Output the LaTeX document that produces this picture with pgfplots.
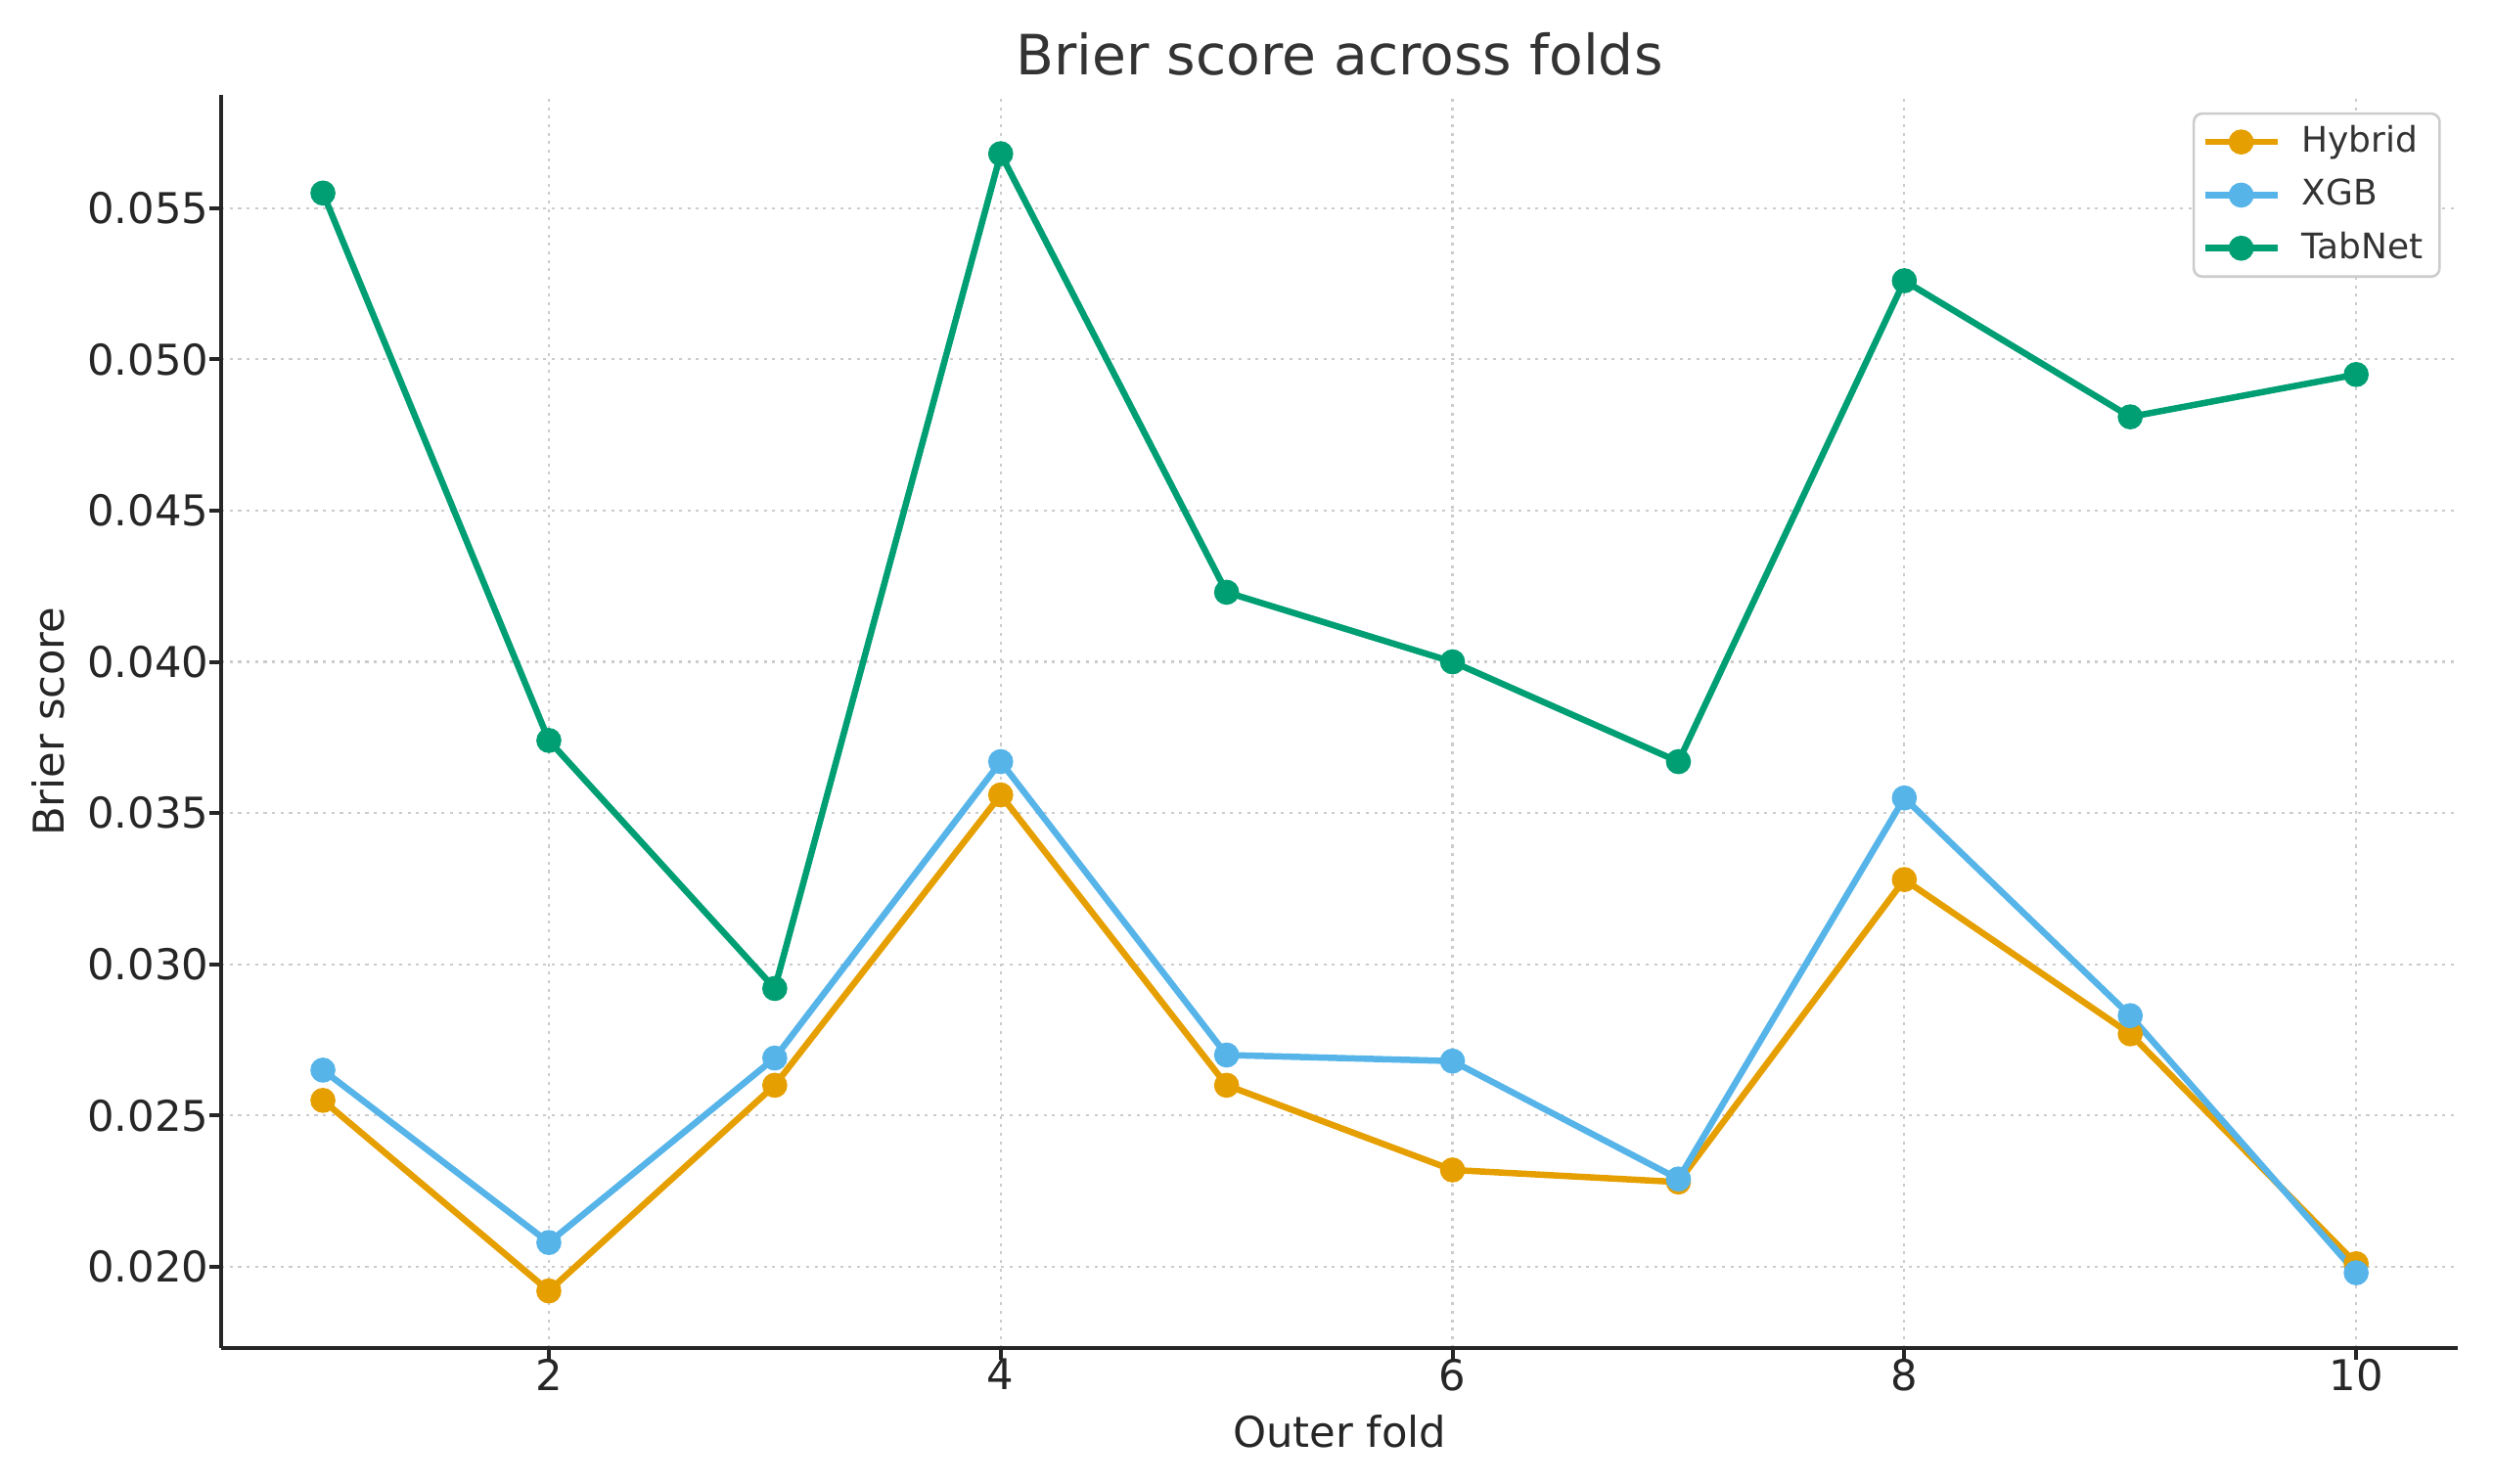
\documentclass[border=0pt]{standalone}
\usepackage{pgfplots}
\pgfplotsset{compat=1.18}
\usepackage{fontspec}
\setmainfont{DejaVu Sans}
\definecolor{cHyb}{HTML}{E69F00}
\definecolor{cXGB}{HTML}{56B4E9}
\definecolor{cTab}{HTML}{009E73}
\definecolor{txt}{HTML}{262626}
\definecolor{ttl}{HTML}{333333}
\definecolor{gridc}{HTML}{CCCCCC}
\begin{document}
\begin{tikzpicture}
\path[use as bounding box] (-52.2pt,-32.1pt) rectangle (535.9pt,318.0pt);
\begin{axis}[
  at={(0,0)}, anchor=south west,
  scale only axis,
  width=527.6pt, height=295.5pt,
  xmin=0.55, xmax=10.45,
  ymin=0.01732, ymax=0.05873,
  axis lines*=left,
  axis line style={txt, line width=0.9pt},
  xtick={2,4,6,8,10},
  ytick={0.020,0.025,0.030,0.035,0.040,0.045,0.050,0.055},
  scaled y ticks=false,
  tick align=outside,
  major tick length=2.8pt,
  tick style={txt, line width=0.9pt},
  /pgf/number format/assume math mode=true,
  yticklabel style={/pgf/number format/fixed, /pgf/number format/fixed zerofill, /pgf/number format/precision=3, font=\fontsize{10}{12}\selectfont, text=txt, xshift=3.4pt},
  xticklabel style={font=\fontsize{10}{12}\selectfont, text=txt, yshift=3.7pt},
  grid=major,
  major grid style={gridc, line width=0.5pt, dash pattern=on 0.7pt off 1.3pt},
  every axis title shift=0pt,
  title={Brier score across folds},
  title style={at={(axis description cs:0.5,1.016)}, anchor=base, font=\fontsize{13.1}{15}\selectfont, text=ttl},
  xlabel={Outer fold},
  xlabel style={at={(axis description cs:0.5,-0.0796)}, anchor=base, font=\fontsize{10}{12}\selectfont, text=txt},
  ylabel={Brier score},
  ylabel style={at={(axis description cs:-0.0705,0.5)}, anchor=base, font=\fontsize{10}{12}\selectfont, text=txt},
  legend style={at={(axis description cs:1,1)}, anchor=north east, xshift=-4pt, yshift=-4pt,
    draw=gridc, line width=0.6pt, rounded corners=2pt, font=\fontsize{8.3}{10}\selectfont, text=ttl,
    row sep=0.8pt, inner xsep=1.9pt, inner ysep=0.8pt,
    /tikz/every odd column/.append style={column sep=3pt}},
  legend cell align=left,
  every axis plot/.append style={line width=1.5pt, mark=*, mark size=2.2pt},
]
\addplot[cHyb, mark options={fill=cHyb, draw=cHyb}] coordinates {
(1,0.0255) (2,0.0192) (3,0.0260) (4,0.0356) (5,0.0260) (6,0.0232) (7,0.0228) (8,0.0328) (9,0.0277) (10,0.0201)};
\addlegendentry{Hybrid}
\addplot[cXGB, mark options={fill=cXGB, draw=cXGB}] coordinates {
(1,0.0265) (2,0.0208) (3,0.0269) (4,0.0367) (5,0.0270) (6,0.0268) (7,0.0229) (8,0.0355) (9,0.0283) (10,0.0198)};
\addlegendentry{XGB}
\addplot[cTab, mark options={fill=cTab, draw=cTab}] coordinates {
(1,0.0555) (2,0.0374) (3,0.0292) (4,0.0568) (5,0.0423) (6,0.0400) (7,0.0367) (8,0.0526) (9,0.0481) (10,0.0495)};
\addlegendentry{TabNet}
\end{axis}
\end{tikzpicture}
\end{document}
